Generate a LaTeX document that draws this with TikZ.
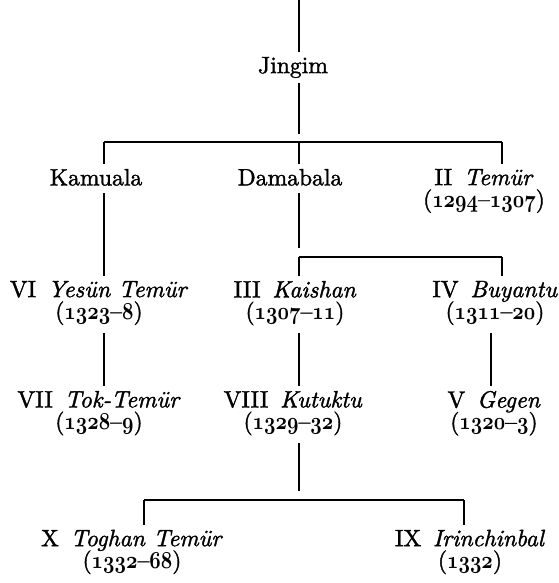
\documentclass[tikz,border=0pt]{standalone}
\usepackage{fontspec}
\usepackage{tikz}
\setmainfont{lmroman10-regular.otf}[ItalicFont=lmroman10-italic.otf, FakeBold=1.5]

\newcommand{\osf}[1]{\scalebox{0.82}[1]{\fontsize{18.5}{15.65}\usefont{OML}{cmm}{b}{it}#1}}
\newcommand{\years}[2]{(\osf{#1}--\osf{#2})}
\tikzset{
    ruler/.style={anchor=north, align=center, inner xsep=0pt, inner ysep=0.1cm,
        font=\fontsize{16.8}{15.65}\selectfont},
    stem/.style={line width=0.8pt}
}

\begin{document}
\begin{tikzpicture}[stem]
    \lineskiplimit=-100pt
    \useasboundingbox (0,0) rectangle (13.975,-14.575);

    \coordinate (top) at (7.475,0);
    \coordinate (b1l) at (2.6,-3.55);
    \coordinate (b1m) at (7.475,-3.55);
    \coordinate (b1r) at (12.55,-3.55);
    \coordinate (b2l) at (7.475,-6.425);
    \coordinate (b2r) at (12.55,-6.425);
    \coordinate (colr) at (12.275,0);
    \coordinate (b3l) at (3.6,-12.5);
    \coordinate (b3m) at (7.475,-12.5);
    \coordinate (b3r) at (11.6,-12.5);

    \node[ruler] (jingim) at (7.325,-1.31) {Jingim};

    \node[ruler] (kamuala) at (2.4,-4.11) {Kamuala};
    \node[ruler] (damabala) at (7.25,-4.11) {Damabala};
    \node[ruler] (temur) at (12.1,-4.11) {II\enspace\textit{Temür}\\\years{1294}{1307}};

    \node[ruler] (yesun) at (2.475,-6.91) {VI\enspace\textit{Yesün Temür}\\\years{1323}{8}};
    \node[ruler] (kaishan) at (7.375,-6.91) {III\enspace\textit{Kaishan}\\\years{1307}{11}};
    \node[ruler] (buyantu) at (12.375,-6.91) {IV\enspace\textit{Buyantu}\\\years{1311}{20}};

    \node[ruler] (tok) at (2.475,-9.66) {VII\enspace\textit{Tok-Temür}\\\years{1328}{9}};
    \node[ruler] (kutuktu) at (7.325,-9.66) {VIII\enspace\textit{Kutuktu}\\\years{1329}{32}};
    \node[ruler] (gegen) at (12.35,-9.66) {V\enspace\textit{Gegen}\\\years{1320}{3}};

    \node[ruler] (toghan) at (3.3,-13.13) {X\enspace\textit{Toghan Temür}\\\years{1332}{68}};
    \node[ruler] (irinchinbal) at (11.75,-13.13) {IX\enspace\textit{Irinchinbal}\\(\osf{1332})};

    \draw (top) -- (jingim.north -| top);
    \draw[shorten >=0.2cm] (jingim.south -| b1m) -- (b1m);
    \draw (b1l) -- (b1r);
    \foreach \c/\n in {b1l/kamuala, b1m/damabala, b1r/temur}
        \draw (\c) -- (\n.north -| \c);

    \draw[shorten <=0.08cm] (kamuala.south -| b1l) -- (yesun.north -| b1l);
    \draw[shorten <=0.08cm, shorten >=0.22cm] (damabala.south -| b2l) -- (b2l);
    \draw (b2l) -- (b2r);
    \foreach \c/\n in {b2l/kaishan, b2r/buyantu}
        \draw (\c) -- (\n.north -| \c);

    \draw[shorten <=0.08cm] (yesun.south -| b1l) -- (tok.north -| b1l);
    \draw[shorten <=0.08cm] (kaishan.south -| b2l) -- (kutuktu.north -| b2l);
    \draw[shorten <=0.08cm] (buyantu.south -| colr) -- (gegen.north -| colr);

    \draw[shorten <=0.08cm, shorten >=0.22cm] (kutuktu.south -| b3m) -- (b3m);
    \draw (b3l) -- (b3r);
    \foreach \c/\n in {b3l/toghan, b3r/irinchinbal}
        \draw (\c) -- (\n.north -| \c);
\end{tikzpicture}
\end{document}
